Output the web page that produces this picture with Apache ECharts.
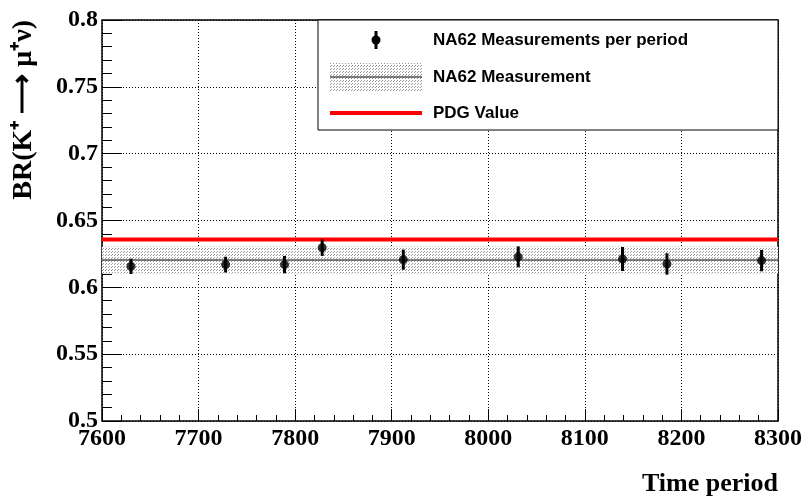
<!DOCTYPE html>
<html>
<head>
<meta charset="utf-8">
<script src="https://cdn.jsdelivr.net/npm/echarts@6/dist/echarts.min.js"></script>
</head>
<body style="margin:0;background:#fff">
<div id="container" style="width:810px;height:501px"></div>
<script>
// measurements per period
var periods = [7630, 7728, 7789, 7828, 7912, 8031, 8139, 8185, 8283];
var brValues = [0.6157, 0.617, 0.617, 0.6297, 0.6207, 0.6228, 0.6212, 0.6175, 0.620];
var brErrors = [0.0057, 0.0059, 0.0065, 0.0062, 0.0075, 0.0078, 0.009, 0.008, 0.008];
// combined measurement and PDG
var na62Mean = 0.6205;
var na62Err = 0.0101;
var pdgValue = 0.6357;

var chart = echarts.init(document.getElementById('container'));
var font = 'Liberation Serif';

// dotted fill like ROOT hatch
var pc = document.createElement('canvas');
pc.width = 3; pc.height = 3;
var pctx = pc.getContext('2d');
pctx.fillStyle = '#fff'; pctx.fillRect(0, 0, 3, 3);
pctx.fillStyle = '#999'; pctx.fillRect(0, 0, 1, 1); pctx.fillRect(1, 2, 1, 1);

var pts = periods.map(function (p, i) { return [p, brValues[i], brErrors[i]]; });

var option = {
  animation: false,
  grid: { left: 102, right: 32, top: 20, bottom: 80, show: true, borderColor: '#000', borderWidth: 1.5 },
  xAxis: {
    type: 'value', min: 7600, max: 8300, interval: 100,
    name: 'Time period', nameLocation: 'end', nameGap: 0,
    nameTextStyle: { fontFamily: font, fontWeight: 'bold', fontSize: 26, color: '#000', align: 'right', verticalAlign: 'top', padding: [50, 0, 0, 0] },
    axisLine: { show: false },
    axisTick: { inside: true, length: 12, lineStyle: { color: '#000' } },
    minorTick: { show: true, splitNumber: 5, length: 6, lineStyle: { color: '#000' } },
    axisLabel: { fontFamily: font, fontWeight: 'bold', fontSize: 24, color: '#000', margin: 6,
      formatter: function (v) { return String(v); } },
    splitLine: { lineStyle: { color: '#000', type: [1, 2], width: 1 } }
  },
  yAxis: {
    type: 'value', min: 0.5, max: 0.8, interval: 0.05,
    name: 'BR(K⁺ ⟶ μ⁺ν)', nameLocation: 'end', nameRotate: 90, nameGap: 0,
    nameTextStyle: { fontFamily: font, fontWeight: 'bold', fontSize: 28, color: '#000', align: 'right', verticalAlign: 'bottom', padding: [0, 0, 64, 0] },
    axisLine: { show: false },
    axisTick: { inside: true, length: 20, lineStyle: { color: '#000' } },
    minorTick: { show: true, splitNumber: 5, length: 10, lineStyle: { color: '#000' } },
    axisLabel: { fontFamily: font, fontWeight: 'bold', fontSize: 24, color: '#000', margin: 4,
      formatter: function (v) { return String(+v.toFixed(2)); } },
    splitLine: { lineStyle: { color: '#000', type: [1, 2], width: 1 } }
  },
  series: [
    {
      type: 'custom', silent: true, z: 1,
      data: [[na62Mean, na62Err]],
      renderItem: function (params, api) {
        var cs = params.coordSys;
        var y1 = api.coord([7600, na62Mean + na62Err])[1];
        var y2 = api.coord([7600, na62Mean - na62Err])[1];
        var yc = api.coord([7600, na62Mean])[1];
        return { type: 'group', children: [
          { type: 'rect', shape: { x: cs.x, y: y1, width: cs.width, height: y2 - y1 },
            style: { fill: { image: pc, repeat: 'repeat' } } },
          { type: 'line', shape: { x1: cs.x, y1: yc, x2: cs.x + cs.width, y2: yc },
            style: { stroke: '#555', lineWidth: 1.5 } }
        ] };
      }
    },
    {
      type: 'line', silent: true, symbol: 'none', z: 2,
      data: [[7600, pdgValue], [8300, pdgValue]],
      lineStyle: { color: '#f00', width: 4 }
    },
    {
      type: 'custom', silent: true, z: 3,
      data: pts,
      renderItem: function (params, api) {
        var top = api.coord([api.value(0), api.value(1) + api.value(2)]);
        var bot = api.coord([api.value(0), api.value(1) - api.value(2)]);
        return { type: 'line', shape: { x1: top[0], y1: top[1], x2: bot[0], y2: bot[1] },
          style: { stroke: '#000', lineWidth: 3 } };
      }
    },
    {
      type: 'scatter', silent: true, z: 4, symbol: 'circle', symbolSize: 9,
      data: pts.map(function (p) { return [p[0], p[1]]; }),
      itemStyle: { color: '#000' }
    }
  ],
  graphic: [
    { type: 'rect', shape: { x: 318, y: 20, width: 460, height: 110 }, style: { fill: '#fff', stroke: '#000', lineWidth: 1 }, z: 10 },
    { type: 'line', shape: { x1: 376, y1: 31, x2: 376, y2: 49 }, style: { stroke: '#000', lineWidth: 3 }, z: 11 },
    { type: 'circle', shape: { cx: 376, cy: 40, r: 4.5 }, style: { fill: '#000' }, z: 11 },
    { type: 'rect', shape: { x: 330, y: 63, width: 92, height: 28 }, style: { fill: { image: pc, repeat: 'repeat' } }, z: 11 },
    { type: 'line', shape: { x1: 330, y1: 77, x2: 422, y2: 77 }, style: { stroke: '#555', lineWidth: 1.5 }, z: 11 },
    { type: 'line', shape: { x1: 330, y1: 113, x2: 422, y2: 113 }, style: { stroke: '#f00', lineWidth: 4 }, z: 11 },
    { type: 'text', x: 433, y: 40, style: { text: 'NA62 Measurements per period', font: 'bold 17px Liberation Sans', fill: '#000', verticalAlign: 'middle' }, z: 11 },
    { type: 'text', x: 433, y: 77, style: { text: 'NA62 Measurement', font: 'bold 17px Liberation Sans', fill: '#000', verticalAlign: 'middle' }, z: 11 },
    { type: 'text', x: 433, y: 113, style: { text: 'PDG Value', font: 'bold 17px Liberation Sans', fill: '#000', verticalAlign: 'middle' }, z: 11 }
  ]
};
chart.setOption(option);
</script>
</body>
</html>
